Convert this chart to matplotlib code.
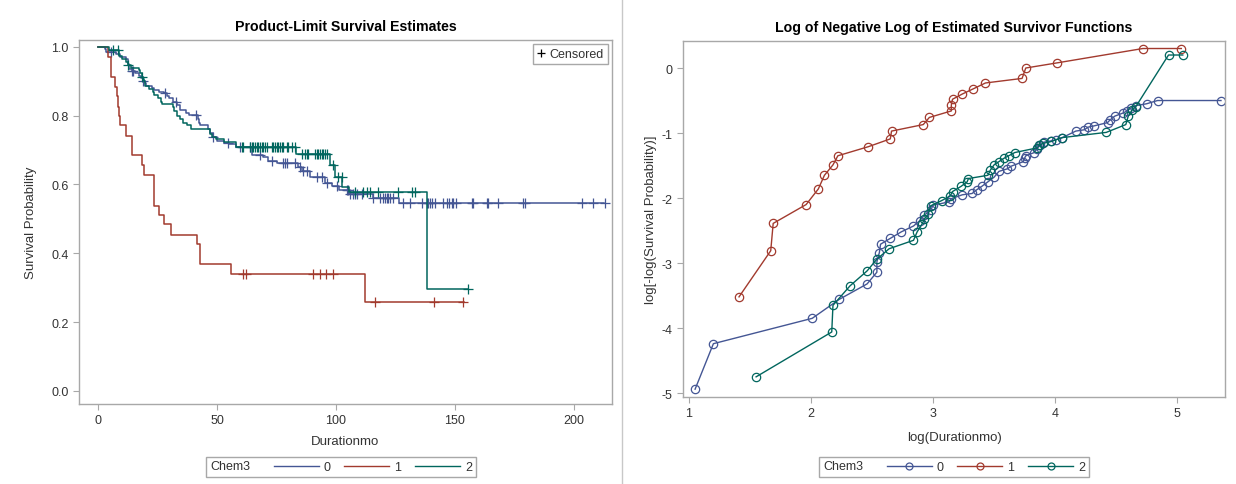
import numpy as np
import matplotlib
matplotlib.use('Agg')
import matplotlib.pyplot as plt
import matplotlib.text as mtext
from matplotlib.lines import Line2D
from matplotlib.legend_handler import HandlerBase

plt.rcParams['font.family'] = ['Liberation Sans', 'DejaVu Sans']
plt.rcParams['axes.unicode_minus'] = False

groups = ['0', '1', '2']
colors = ['#445694', '#A23A2E', '#01665E']

logt_0 = [1.05, 1.20, 2.01, 2.23, 2.46, 2.54, 2.54, 2.56, 2.57, 2.65, 2.74, 2.84, 2.89, 2.93, 2.98,
          3.00, 3.13, 3.15, 3.24, 3.32, 3.36, 3.40, 3.45, 3.50, 3.54, 3.61, 3.64, 3.74, 3.75, 3.76,
          3.83, 3.85, 3.88, 3.91, 3.97, 4.01, 4.06, 4.17, 4.24, 4.27, 4.32, 4.43, 4.45, 4.49, 4.56,
          4.59, 4.62, 4.66, 4.75, 4.84, 5.36]
lls_0 = [-4.94, -4.24, -3.85, -3.56, -3.32, -3.14, -2.98, -2.84, -2.71, -2.62, -2.52, -2.43, -2.35,
         -2.26, -2.19, -2.11, -2.06, -2.01, -1.95, -1.93, -1.87, -1.82, -1.75, -1.68, -1.59, -1.55,
         -1.51, -1.44, -1.39, -1.35, -1.30, -1.24, -1.19, -1.14, -1.12, -1.10, -1.07, -0.97, -0.95,
         -0.91, -0.89, -0.84, -0.80, -0.74, -0.69, -0.66, -0.62, -0.58, -0.55, -0.50, -0.50]

logt_1 = [1.41, 1.67, 1.69, 1.96, 2.06, 2.11, 2.18, 2.22, 2.47, 2.65, 2.66, 2.92, 2.97, 3.15, 3.15,
          3.16, 3.24, 3.33, 3.43, 3.73, 3.76, 4.02, 4.72, 5.035]
lls_1 = [-3.52, -2.81, -2.39, -2.10, -1.86, -1.65, -1.49, -1.35, -1.21, -1.09, -0.97, -0.87, -0.76,
         -0.66, -0.57, -0.48, -0.40, -0.32, -0.23, -0.16, 0.00, 0.08, 0.30, 0.30]

logt_2 = [1.55, 2.17, 2.18, 2.32, 2.46, 2.54, 2.64, 2.84, 2.87, 2.91, 2.93, 2.96, 2.98, 3.07, 3.14,
          3.16, 3.23, 3.28, 3.29, 3.45, 3.47, 3.50, 3.54, 3.58, 3.62, 3.67, 3.85, 3.87, 3.90, 3.97,
          4.06, 4.42, 4.58, 4.60, 4.63, 4.66, 4.93, 5.047]
lls_2 = [-4.75, -4.06, -3.65, -3.35, -3.12, -2.94, -2.78, -2.65, -2.52, -2.40, -2.32, -2.25, -2.12,
         -2.04, -1.97, -1.90, -1.82, -1.75, -1.70, -1.65, -1.57, -1.49, -1.44, -1.39, -1.35, -1.30,
         -1.23, -1.19, -1.16, -1.13, -1.07, -0.99, -0.87, -0.74, -0.65, -0.60, 0.20, 0.20]

# censored times (months)
cens_0 = [5.5, 14.2, 14.6, 19.0, 28.2, 32.8, 41.2, 48.5, 54.5, 59.7, 63.9, 68.1, 73.0, 77.9, 78.6,
          79.3, 82.8, 84.9, 86.3, 87.7, 91.9, 94.0, 96.1, 100.3, 104.5, 105.2, 105.9, 107.0, 108.0,
          109.0, 111.1, 115.7, 118.5, 119.9, 120.6, 121.3, 122.0, 122.7, 124.1, 128.3, 131.1, 136.0,
          138.1, 138.8, 139.5, 140.2, 141.6, 144.8, 146.8, 147.6, 148.6, 149.3, 150.4, 157.0, 157.7,
          163.3, 164.0, 168.2, 178.7, 179.4, 203.5, 207.9, 213.0]
cens_1 = [60.9, 62.2, 90.3, 93.3, 95.8, 98.6, 116.4, 141.2, 153.5]
cens_2 = [6.4, 8.3, 12.7, 18.4, 60.4, 61.1, 63.9, 64.6, 65.3, 66.0, 66.7, 67.4, 68.1, 68.8, 69.5,
          70.2, 70.9, 73.0, 73.7, 74.4, 75.1, 75.8, 76.5, 77.2, 77.9, 79.3, 80.0, 81.4, 82.8, 85.6,
          87.0, 87.7, 88.4, 91.2, 91.9, 92.6, 93.3, 94.0, 94.7, 95.4, 96.1, 98.9, 101.0, 102.4, 108.0,
          111.5, 112.9, 114.3, 117.8, 126.2, 131.8, 133.2, 155.6]

logts = [logt_0, logt_1, logt_2]
llss = [lls_0, lls_1, lls_2]
censs = [cens_0, cens_1, cens_2]

txt = '#333333'
frame = '#a8a8a8'


class TitleEntry(HandlerBase):
    def create_artists(self, legend, orig_handle, xdescent, ydescent, width, height, fontsize, trans):
        t = mtext.Text(-xdescent, -ydescent + height / 2, 'Chem3', ha='left', va='center',
                       fontsize=fontsize, color=txt, transform=trans)
        return [t]


def style_axes(ax):
    for sp in ax.spines.values():
        sp.set_color(frame)
        sp.set_linewidth(1.0)
    ax.tick_params(colors=frame, labelcolor=txt, labelsize=9, length=4, width=0.8)


fig = plt.figure(figsize=(12.36, 4.85), dpi=100)
ax1 = fig.add_axes([0.0639, 0.165, 0.4312, 0.7505])
ax2 = fig.add_axes([0.5526, 0.1794, 0.4385, 0.7346])

# left: product-limit estimates
for g, lt, ll, cs, c in zip(groups, logts, llss, censs, colors):
    t = np.exp(lt)
    s = np.exp(-np.exp(ll))
    xs = np.r_[0.0, t]
    ys = np.r_[1.0, s]
    ax1.step(xs, ys, where='post', color=c, lw=1.1)
    cs = np.array(cs)
    idx = np.searchsorted(xs, cs, side='right') - 1
    ax1.plot(cs, ys[idx], ls='none', marker='+', color=c, ms=7, mew=0.9)

ax1.set_xlim(-8, 216)
ax1.set_ylim(-0.038, 1.02)
ax1.set_xticks([0, 50, 100, 150, 200])
ax1.set_yticks([0.0, 0.2, 0.4, 0.6, 0.8, 1.0])
ax1.set_yticklabels(['0.0', '0.2', '0.4', '0.6', '0.8', '1.0'])
ax1.set_xlabel('Durationmo', fontsize=9.5, color=txt, labelpad=6)
ax1.set_ylabel('Survival Probability', fontsize=9.5, color=txt, labelpad=10)
ax1.set_title('Product-Limit Survival Estimates', fontsize=10.2, fontweight='bold', pad=7)
style_axes(ax1)

cen_leg = ax1.legend([Line2D([], [], marker='+', color='black', ls='none', ms=6, mew=0.9)],
                     ['Censored'], loc='upper right', fontsize=9, handlelength=0.7,
                     handletextpad=0.3, borderpad=0.3, borderaxespad=0.35, fancybox=False,
                     edgecolor=frame, framealpha=1)
for tx in cen_leg.get_texts():
    tx.set_color(txt)

# right: log of negative log
for g, lt, ll, c in zip(groups, logts, llss, colors):
    ax2.plot(lt, ll, color=c, lw=1.0, marker='o', ms=6, mfc='none', mew=0.9)

ax2.set_xlim(0.951, 5.393)
ax2.set_ylim(-5.06, 0.42)
ax2.set_xticks([1, 2, 3, 4, 5])
ax2.set_yticks([-5, -4, -3, -2, -1, 0])
ax2.set_xlabel('log(Durationmo)', fontsize=9.5, color=txt, labelpad=8)
ax2.set_ylabel('log[-log(Survival Probability)]', fontsize=9.5, color=txt, labelpad=3)
ax2.set_title('Log of Negative Log of Estimated Survivor Functions', fontsize=10.2,
              fontweight='bold', pad=7)
style_axes(ax2)

# group legends below each panel
dummy1 = Line2D([], [])
dummy2 = Line2D([], [])
h1 = [dummy1] + [Line2D([], [], color=c, lw=1.0) for c in colors]
h2 = [dummy2] + [Line2D([], [], color=c, lw=1.0, marker='o', ms=5, mfc='none', mew=0.9)
                 for c in colors]
for h, dm, cx in [(h1, dummy1, 341), (h2, dummy2, 954)]:
    leg = fig.legend(h, [''] + groups, loc='center', bbox_to_anchor=(cx / 1236, 1 - 468 / 485),
                     ncol=4, fontsize=9, handlelength=3.6, handletextpad=0.4, columnspacing=1.1,
                     borderpad=0.3, fancybox=False, edgecolor=frame, framealpha=1,
                     numpoints=1, handler_map={dm: TitleEntry()})
    for tx in leg.get_texts():
        tx.set_color(txt)

fig.add_artist(Line2D([622 / 1236, 622 / 1236], [0, 1], transform=fig.transFigure,
                      color='#c8c8c8', lw=1.0))

fig.savefig('out.png', dpi=100)
